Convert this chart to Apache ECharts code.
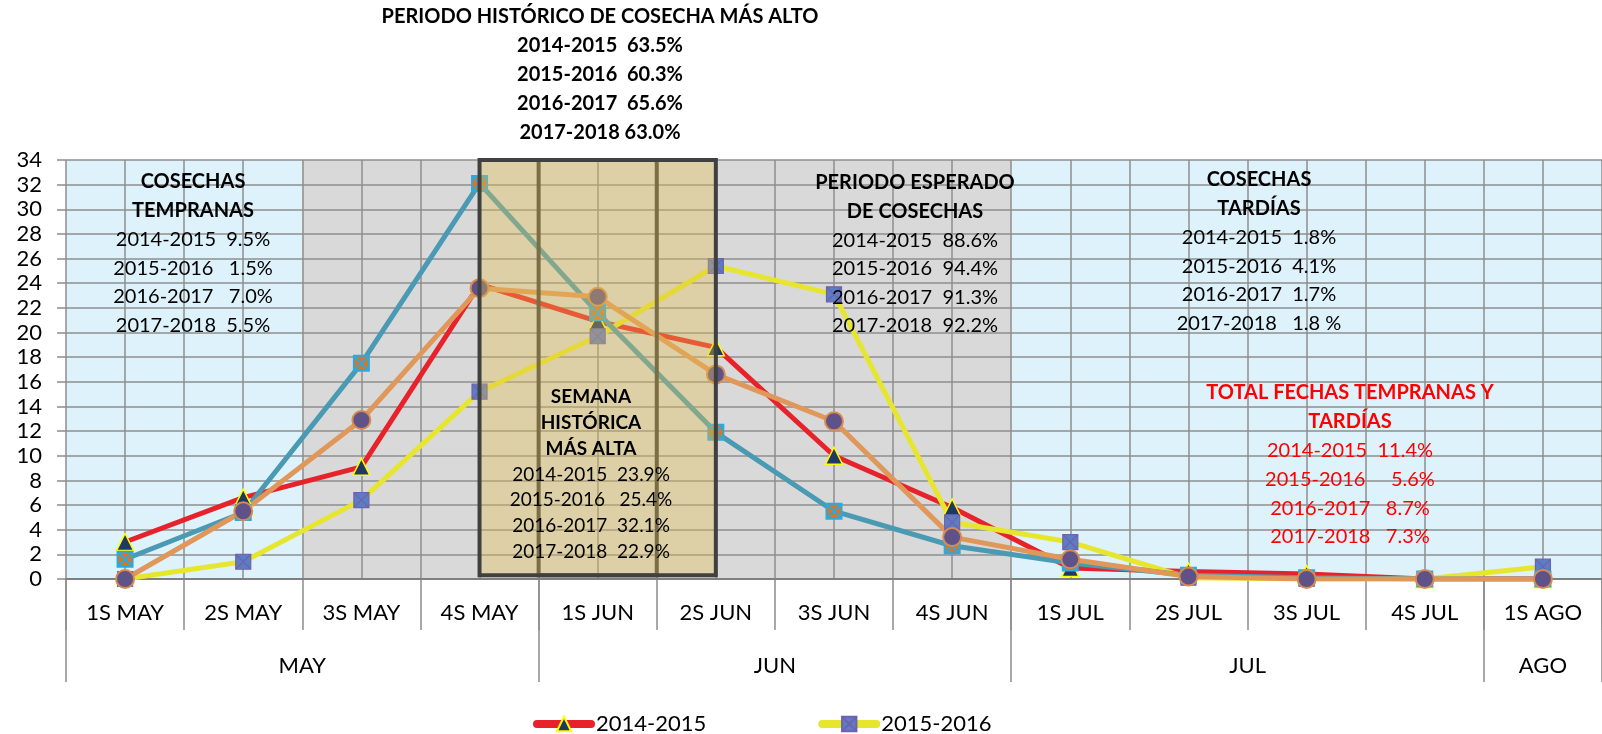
<!DOCTYPE html>
<html><head><meta charset="utf-8">
<script src="https://cdn.jsdelivr.net/npm/echarts@6/dist/echarts.min.js"></script>
<style>html,body{margin:0;padding:0;background:#fff}#c{width:1602px;height:734px}</style>
</head><body><div id="c"></div><script>
// ---------- data ----------
const weeks = ['1S MAY','2S MAY','3S MAY','4S MAY','1S JUN','2S JUN','3S JUN','4S JUN','1S JUL','2S JUL','3S JUL','4S JUL','1S AGO'];
const months = ['MAY','JUN','JUL','AGO'];
const monthWeekCounts = [4,4,4,1];
const seriesNames = ['2014-2015','2015-2016','2016-2017','2017-2018'];
const s1415 = [3.0,6.6,9.1,23.9,20.9,18.8,10.0,5.8,0.9,0.6,0.4,0.0,0.0];
const s1516 = [0.0,1.4,6.4,15.2,19.7,25.4,23.1,4.6,3.0,0.1,0.0,0.0,1.0];
const s1617 = [1.6,5.4,17.5,32.1,21.6,11.9,5.5,2.7,1.3,0.3,0.1,0.0,0.0];
const s1718 = [0.0,5.5,12.9,23.6,22.9,16.6,12.8,3.4,1.6,0.2,0.0,0.0,0.0];
const weekPeriod = ['early','early','expected','expected','expected','expected','expected','expected','late','late','late','late','late'];
const highSpan = ['4S MAY','2S JUN'];
const highWeek = '1S JUN';
const yMin = 0, yMax = 34, yStep = 2;
const legendShown = ['2014-2015','2015-2016'];

const topTitle = ['PERIODO HISTÓRICO DE COSECHA MÁS ALTO','2014-2015  63.5%','2015-2016  60.3%','2016-2017  65.6%','2017-2018 63.0%'];
const earlyHead = ['COSECHAS','TEMPRANAS'];
const earlyLines = ['2014-2015  9.5%','2015-2016   1.5%','2016-2017   7.0%','2017-2018  5.5%'];
const weekHead = ['SEMANA','HISTÓRICA','MÁS ALTA'];
const weekLines = ['2014-2015  23.9%','2015-2016   25.4%','2016-2017  32.1%','2017-2018  22.9%'];
const expHead = ['PERIODO ESPERADO','DE COSECHAS'];
const expLines = ['2014-2015  88.6%','2015-2016  94.4%','2016-2017  91.3%','2017-2018  92.2%'];
const lateHead = ['COSECHAS','TARDÍAS'];
const lateLines = ['2014-2015  1.8%','2015-2016  4.1%','2016-2017  1.7%','2017-2018   1.8 %'];
const totalHead = ['TOTAL FECHAS TEMPRANAS Y','TARDÍAS'];
const totalLines = ['2014-2015  11.4%','2015-2016     5.6%','2016-2017   8.7%','2017-2018   7.3%'];

// ---------- build ----------
const FONT = 'Lato';
const periodColor = {early:'#DDF2FB', expected:'#D9D9D9', late:'#DDF2FB'};
const halfLabels = new Array(weeks.length*2+1).fill('');
const halfBounds = {};
let acc = 0;
months.forEach((m,i)=>{
  const n = monthWeekCounts[i];
  halfBounds[acc*2] = true;
  halfLabels[acc*2 + n] = m;
  acc += n;
});
halfBounds[acc*2] = true;
const halfData = halfLabels.map((l,i)=> l || ('\u200b'.repeat(i+1)));

const iA = weeks.indexOf(highSpan[0]), iB = weeks.indexOf(highSpan[1]), iW = weeks.indexOf(highWeek);

const sqX = 'path://M0,0L10,0L10,10L0,10Z M0,0L10,10 M10,0L0,10';
function lineSeries(name, data, lineColor, symbol, size, fill, border, bw){
  return {name, type:'line', data, xAxisIndex:0, yAxisIndex:0, z:3,
    symbol, symbolSize:size, showAllSymbol:true,
    lineStyle:{color:lineColor, width:5},
    itemStyle:{color:fill, borderColor:border, borderWidth:bw},
    color: lineColor};
}

const series = [
  lineSeries(seriesNames[0], s1415, '#E8222A', 'triangle', 17, '#1F3864', '#FFFF00', 1.5),
  lineSeries(seriesNames[1], s1516, '#E6E62E', sqX, 15, '#5B7EC2', '#7060B0', 1.2),
  lineSeries(seriesNames[2], s1617, '#4A9AB3', sqX, 15, '#D2772B', '#2AAAE0', 2),
  lineSeries(seriesNames[3], s1718, '#E0975A', 'circle', 18, '#5E5289', '#D98B4F', 2),
  {name:'box', type:'line', xAxisIndex:1, yAxisIndex:0, data:[], z:10, silent:true,
   markArea:{silent:true, z:10, data:[
     [{coord:[iW*2, 0.3], itemStyle:{color:'rgba(0,0,0,0)', borderColor:'#404040', borderWidth:4}},
      {coord:[iW*2+2, 34.6]}],
     [{coord:[iA*2+1, 0.3], itemStyle:{color:'rgba(228,191,77,0.36)', borderColor:'#404040', borderWidth:4}},
      {coord:[iB*2+1, 34.2]}]
   ]}}
];

function block(cx, cy, lh, heads, lines, size, color){
  const out = [];
  const all = heads.map(t=>({t, b:true})).concat(lines.map(t=>({t, b:false})));
  all.forEach((o,i)=>{
    out.push({type:'text', x:cx, y:cy + i*lh, z:100, silent:true,
      style:{text:o.t, fill:color, font:(o.b?'bold ':'')+size+'px '+FONT,
        align:'center', verticalAlign:'middle', textAlign:'center', textVerticalAlign:'middle'}});
  });
  return out;
}
const graphics = [].concat(
  block(600, 17, 28.8, topTitle, [], 20, '#000'),
  block(193, 182, 28.7, earlyHead, earlyLines, 20, '#000'),
  block(591, 397, 25.8, weekHead, weekLines, 19, '#000'),
  block(915, 183, 28.6, expHead, expLines, 20, '#000'),
  block(1259, 180, 28.7, lateHead, lateLines, 20, '#000'),
  block(1350, 393, 28.8, totalHead, totalLines, 20, '#FF0000')
);

const chart = echarts.init(document.getElementById('c'), null, {renderer:'canvas'});
chart.setOption({
  animation:false,
  backgroundColor:'#fff',
  grid:{left:66, right:0, top:160, bottom:155, containLabel:false},
  legend:{data:legendShown, left:528, top:708, itemWidth:54, itemHeight:18, itemGap:112,
    lineStyle:{width:8, cap:'round'},
    textStyle:{fontFamily:FONT, fontSize:22, color:'#000'}},
  xAxis:[
    {type:'category', data:weeks, boundaryGap:true, position:'bottom', z:0,
     axisLine:{show:false},
     axisTick:{show:true, interval:0, length:51, lineStyle:{color:'#8c8c8c', width:1.5}},
     axisLabel:{interval:0, margin:23, fontFamily:FONT, fontSize:22, color:'#000'},
     splitLine:{show:false},
     splitArea:{show:true, interval:0, areaStyle:{color:weekPeriod.map(p=>periodColor[p])}}},
    {type:'category', data:halfData, boundaryGap:false, position:'bottom', z:2,
     axisLine:{show:true, lineStyle:{color:'#7f7f7f', width:2}},
     axisTick:{show:true, length:103, interval:(i)=>!!halfBounds[i], lineStyle:{color:'#8c8c8c', width:1.5}},
     axisLabel:{show:true, margin:76, interval:(i)=>halfLabels[i]!=='', formatter:(v,i)=>halfLabels[i],
       fontFamily:FONT, fontSize:22, color:'#000'},
     splitLine:{show:true, interval:0, lineStyle:{color:'#8e8e8e', width:1.5}}}
  ],
  yAxis:{type:'value', min:yMin, max:yMax, interval:yStep, z:1,
    axisLine:{show:false},
    axisTick:{show:true, length:9, lineStyle:{color:'#8c8c8c', width:1.5}},
    axisLabel:{margin:24, fontFamily:FONT, fontSize:22, color:'#000'},
    splitLine:{show:true, lineStyle:{color:'#8e8e8e', width:1.5}}},
  series,
  graphic:graphics
});
</script></body></html>
